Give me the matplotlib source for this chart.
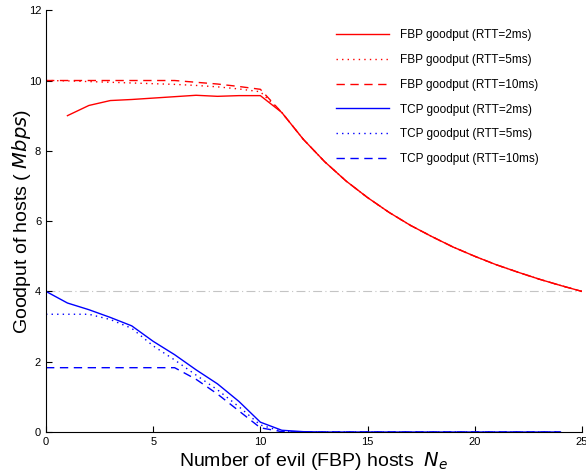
import matplotlib
matplotlib.use('Agg')
import matplotlib.pyplot as plt

# values
n_fbp = [1, 2, 3, 4, 5, 6, 7, 8, 9, 10, 11, 12, 13, 14, 15, 16, 17, 18, 19,
         20, 21, 22, 23, 24, 25]
fbp_2ms = [9.00, 9.29, 9.43, 9.46, 9.50, 9.54, 9.58, 9.55, 9.57, 9.57,
           9.09, 8.33, 7.69, 7.14, 6.67, 6.25, 5.88, 5.56, 5.26, 5.00,
           4.76, 4.55, 4.35, 4.17, 4.00]

n_fbp0 = [0] + n_fbp
fbp_5ms = [10.0, 9.99, 9.97, 9.95, 9.93, 9.91, 9.89, 9.86, 9.82, 9.76, 9.68,
           9.09, 8.33, 7.69, 7.14, 6.67, 6.25, 5.88, 5.56, 5.26, 5.00,
           4.76, 4.55, 4.35, 4.17, 4.00]
fbp_10ms = [10.0, 10.0, 10.0, 10.0, 10.0, 10.0, 10.0, 9.95, 9.90, 9.83, 9.75,
            9.09, 8.33, 7.69, 7.14, 6.67, 6.25, 5.88, 5.56, 5.26, 5.00,
            4.76, 4.55, 4.35, 4.17, 4.00]

n_tcp = list(range(0, 25))
tcp_2ms = [4.00, 3.67, 3.48, 3.26, 3.02, 2.58, 2.20, 1.77, 1.37, 0.87, 0.28,
           0.05, 0.01] + [0.0] * 12
tcp_5ms = [3.35, 3.35, 3.35, 3.20, 2.95, 2.45, 2.05, 1.62, 1.20, 0.72, 0.20,
           0.02, 0.0] + [0.0] * 12
tcp_10ms = [1.83, 1.83, 1.83, 1.83, 1.83, 1.83, 1.83, 1.50, 1.08, 0.60, 0.12,
            0.01, 0.0] + [0.0] * 12

fair_share = 4.0

plt.rcParams['font.family'] = ['Liberation Sans', 'DejaVu Sans']

fig = plt.figure(figsize=(5.86, 4.75), dpi=100)
ax = fig.add_axes([0.0785, 0.0905, 0.9145, 0.888])

dotted = (0, (1, 3))
dashed = (0, (6, 4))
ax.axhline(fair_share, color='#c4c4c4', lw=0.8, ls=(0, (8, 3, 1, 3)), zorder=1)
ax.plot(n_fbp, fbp_2ms, color='red', lw=1, ls='-', label='FBP goodput (RTT=2ms)')
ax.plot(n_fbp0, fbp_5ms, color='red', lw=1, ls=dotted, label='FBP goodput (RTT=5ms)')
ax.plot(n_fbp0, fbp_10ms, color='red', lw=1, ls=dashed, label='FBP goodput (RTT=10ms)')
ax.plot(n_tcp, tcp_2ms, color='blue', lw=1, ls='-', label='TCP goodput (RTT=2ms)')
ax.plot(n_tcp, tcp_5ms, color='blue', lw=1, ls=dotted, label='TCP goodput (RTT=5ms)')
ax.plot(n_tcp, tcp_10ms, color='blue', lw=1, ls=dashed, label='TCP goodput (RTT=10ms)')

ax.set_xlim(0, 25)
ax.set_ylim(0, 12)
ax.set_xticks([0, 5, 10, 15, 20, 25])
ax.set_yticks([0, 2, 4, 6, 8, 10, 12])
ax.spines['top'].set_visible(False)
ax.spines['right'].set_visible(False)
ax.tick_params(direction='in', length=4, labelsize=8, width=0.8)

ax.set_xlabel('Number of evil (FBP) hosts  $N_e$', fontsize=14, labelpad=2)
ax.set_ylabel('Goodput of hosts ( $\\it{Mbps}$)', fontsize=14, labelpad=-3)

ax.legend(loc='upper left', frameon=False, fontsize=8.5, handlelength=4.5,
          labelspacing=1.08, handletextpad=0.93, borderpad=0.4,
          bbox_to_anchor=(0.521, 0.98))

fig.savefig('out.png', dpi=100)
